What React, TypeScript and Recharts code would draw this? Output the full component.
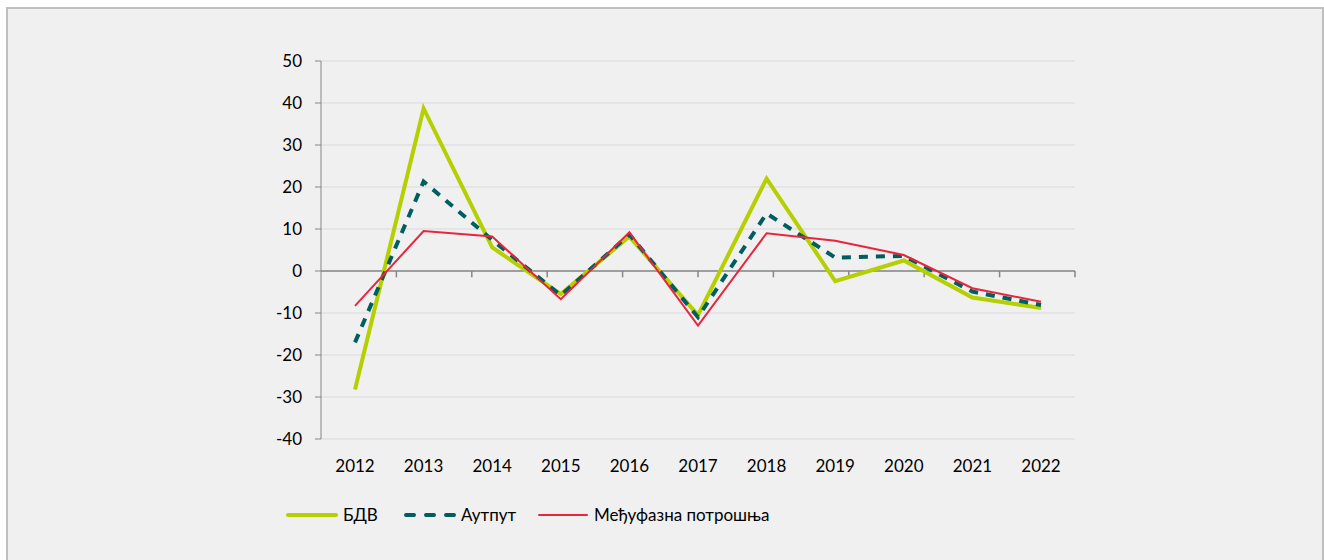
import React from 'react';
import { LineChart, Line, XAxis, YAxis, CartesianGrid, ReferenceLine, Legend } from 'recharts';

const years = ['2012', '2013', '2014', '2015', '2016', '2017', '2018', '2019', '2020', '2021', '2022'];
const bdv = [-28.2, 38.7, 5.6, -5.5, 8.2, -10.5, 22.0, -2.4, 2.5, -6.3, -8.8];
const output = [-17.0, 21.3, 7.4, -5.8, 8.7, -11.0, 13.7, 3.2, 3.6, -4.9, -8.1];
const intermediate = [-8.3, 9.5, 8.2, -6.7, 9.2, -13.0, 9.0, 7.2, 3.8, -4.1, -7.3];
const yTicks = [-40, -30, -20, -10, 0, 10, 20, 30, 40, 50];
const boundaries = [1, 2, 3, 4, 5, 6, 7, 8, 9, 10, 11];

const GREEN = '#b5cf00';
const TEAL = '#005e5e';
const RED = '#e8253d';
const AXIS = '#868686';
const FONT = 'Lato, "Noto Sans", sans-serif';

const data = years.map((year, i) => ({
  year,
  bdv: bdv[i],
  output: output[i],
  intermediate: intermediate[i],
}));

const legendItems = [
  { key: 'bdv', label: 'БДВ', color: GREEN, width: 4, dash: undefined as string | undefined, box: 118 },
  { key: 'output', label: 'Аутпут', color: TEAL, width: 4, dash: '8 12', box: 133 },
  { key: 'intermediate', label: 'Међуфазна потрошња', color: RED, width: 2, dash: undefined as string | undefined, box: 0 },
];

const CustomLegend = () => (
  <div style={{ display: 'flex', alignItems: 'center', fontFamily: FONT, fontSize: 17, color: '#000' }}>
    {legendItems.map((item) => (
      <div key={item.key} style={{ display: 'flex', alignItems: 'center', width: item.box || undefined }}>
        <svg width={56} height={10} style={{ marginRight: 3 }}>
          <line x1={4} y1={5} x2={52} y2={5} stroke={item.color} strokeWidth={item.width}
            strokeDasharray={item.dash} strokeLinecap="round" />
        </svg>
        <span>{item.label}</span>
      </div>
    ))}
  </div>
);

export default function App() {
  return (
    <div style={{
      position: 'absolute', left: 6, top: 7, width: 1314, height: 560,
      border: '2px solid #bfbfbf', background: '#f0f0f0',
    }}>
      <LineChart width={1314} height={560} data={data}
        margin={{ top: 52, right: 247, left: 253, bottom: 79 }}>
        <CartesianGrid vertical={false} stroke="#d9d9d9" strokeWidth={1} />
        <XAxis dataKey="year" axisLine={false} tickLine={false} tickSize={0} tickMargin={21}
          padding={{ left: 34, right: 34 }}
          tick={{ fill: '#000', fontSize: 17, fontFamily: FONT }} interval={0} height={30} />
        <XAxis xAxisId="grid" type="number" domain={[0, 11]} hide allowDataOverflow />
        <YAxis domain={[-40, 50]} ticks={yTicks} width={60} stroke={AXIS} tickSize={6} tickMargin={13}
          tick={{ fill: '#000', fontSize: 17, fontFamily: FONT }} allowDataOverflow interval={0} />
        <ReferenceLine y={0} stroke={AXIS} strokeWidth={1.5} />
        {boundaries.map((b) => (
          <ReferenceLine key={b} xAxisId="grid" segment={[{ x: b, y: 0 }, { x: b, y: -1.5 }]} stroke={AXIS} strokeWidth={1.5} />
        ))}
        <Line type="linear" dataKey="bdv" name="БДВ" stroke={GREEN} strokeWidth={4} dot={false} isAnimationActive={false} />
        <Line type="linear" dataKey="output" name="Аутпут" stroke={TEAL} strokeWidth={4} strokeDasharray="9 8" dot={false} isAnimationActive={false} />
        <Line type="linear" dataKey="intermediate" name="Међуфазна потрошња" stroke={RED} strokeWidth={2} dot={false} isAnimationActive={false} />
        <Legend layout="vertical" align="center" verticalAlign="bottom" content={<CustomLegend />}
          wrapperStyle={{ position: 'absolute', top: 495, left: 276, width: 'auto' }} />
      </LineChart>
    </div>
  );
}
